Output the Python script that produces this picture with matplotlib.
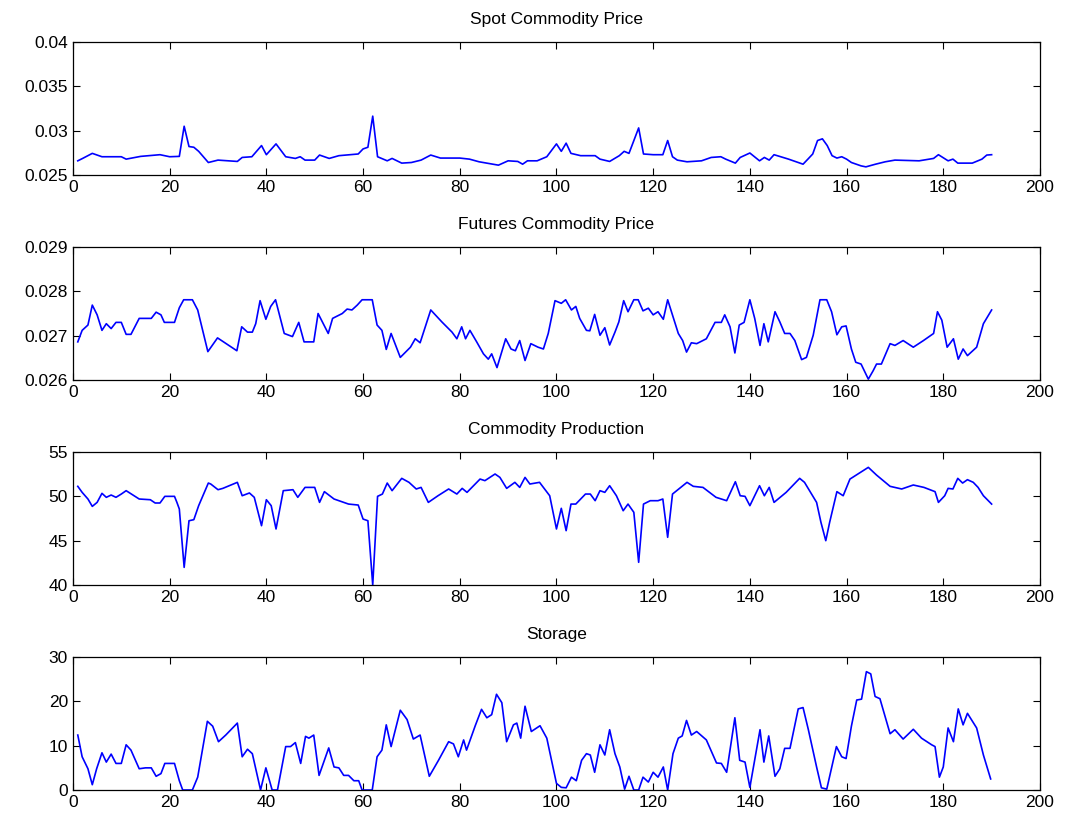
import matplotlib
matplotlib.use('Agg')
import matplotlib.pyplot as plt
from matplotlib.ticker import FormatStrFormatter

plt.rcParams['font.family'] = ['Liberation Sans', 'DejaVu Sans']

# Spot commodity price
spot_x = [1, 2, 4, 6, 8, 10, 11, 14, 18, 20, 22, 23, 24, 25, 26, 28, 30, 34, 35, 37,
          39, 40, 42, 44, 46, 47, 48, 50, 51, 53, 55, 59, 60, 61, 62, 63, 65, 66, 68, 70,
          72, 74, 76, 80, 82, 84, 88, 90, 92, 93, 94, 96, 98, 100, 101, 102, 103, 105, 108, 109,
          111, 113, 114, 115, 117, 118, 120, 122, 123, 124, 125, 127, 130, 132, 134, 135, 137, 138, 140, 142,
          143, 144, 145, 148, 151, 152, 153, 154, 155, 156, 157, 158, 159, 160, 161, 163, 164, 166, 168, 170,
          175, 178, 179, 181, 182, 183, 186, 188, 189, 190]
spot_y = [0.02660, 0.02687, 0.02744, 0.02706, 0.02706, 0.02706, 0.02679, 0.02710, 0.02729, 0.02706,
          0.02710, 0.03050, 0.02821, 0.02813, 0.02767, 0.02641, 0.02668, 0.02653, 0.02698, 0.02706,
          0.02832, 0.02729, 0.02851, 0.02706, 0.02687, 0.02706, 0.02668, 0.02668, 0.02725, 0.02687,
          0.02718, 0.02737, 0.02794, 0.02813, 0.03164, 0.02706, 0.02660, 0.02687, 0.02634, 0.02641,
          0.02668, 0.02725, 0.02691, 0.02691, 0.02679, 0.02649, 0.02611, 0.02660, 0.02653, 0.02622,
          0.02660, 0.02660, 0.02706, 0.02851, 0.02767, 0.02859, 0.02744, 0.02718, 0.02718, 0.02679,
          0.02653, 0.02718, 0.02767, 0.02744, 0.03031, 0.02737, 0.02729, 0.02729, 0.02889, 0.02706,
          0.02668, 0.02649, 0.02660, 0.02698, 0.02706, 0.02679, 0.02634, 0.02698, 0.02748, 0.02660,
          0.02698, 0.02668, 0.02729, 0.02679, 0.02622, 0.02679, 0.02737, 0.02889, 0.02908, 0.02832,
          0.02718, 0.02691, 0.02706, 0.02679, 0.02641, 0.02603, 0.02592, 0.02622, 0.02649, 0.02668,
          0.02660, 0.02687, 0.02729, 0.02660, 0.02679, 0.02634, 0.02634, 0.02679, 0.02725, 0.02729]

# Futures commodity price
fut_x = [1, 1.9, 3.1, 4, 5, 6, 6.9, 7.9, 8.9, 10, 11, 12, 13.7, 16.2, 17.2, 18.2, 18.9, 21, 22, 22.9,
         24.7, 25.8, 27.9, 29.9, 33.9, 34.9, 36.1, 37.1, 37.8, 38.7, 39.9, 40.9, 41.9, 43.7, 45.4, 46.7, 47.8, 49.8, 50.7, 51.9,
         52.8, 53.7, 55.7, 56.7, 57.7, 58.8, 59.8, 61.9, 62.9, 63.9, 64.8, 65.8, 67.7, 69.8, 70.8, 71.8, 74, 76.3, 78.4, 79.4,
         80.4, 81.2, 82.1, 83.5, 84.9, 85.9, 86.6, 87.7, 89.5, 90.6, 91.5, 92.4, 93.5, 94.7, 96.2, 97.3, 98.3, 99.7, 101, 101.9,
         103.1, 104, 104.8, 106.2, 106.9, 107.9, 109, 110, 111, 112.1, 112.9, 113.9, 114.8, 116, 116.9, 117.9, 119, 120, 121, 122.1,
         123, 124.1, 125.2, 126.1, 126.9, 127.9, 129, 131, 132.8, 134.1, 134.8, 135.9, 136.9, 137.8, 138.8, 140, 141, 142.1, 142.9, 143.8,
         145.2, 146.2, 147.2, 148.3, 149.3, 150.7, 151.7, 153.1, 154.5, 155.9, 156.9, 158, 159, 159.9, 161, 161.9, 163, 164.5, 165.5, 166.2,
         167.2, 169, 170, 171.7, 173.8, 175.9, 178, 178.8, 179.7, 180.8, 182.1, 183.1, 184.1, 185, 186.9, 188.3, 190]
fut_y = [0.02686, 0.02712, 0.02724, 0.02769, 0.02747, 0.02712, 0.02727, 0.02716, 0.02730, 0.02730,
         0.02703, 0.02703, 0.02739, 0.02739, 0.02753, 0.02747, 0.02730, 0.02730, 0.02763, 0.02781,
         0.02781, 0.02758, 0.02664, 0.02695, 0.02666, 0.02720, 0.02708, 0.02708, 0.02727, 0.02779,
         0.02737, 0.02766, 0.02781, 0.02705, 0.02698, 0.02730, 0.02686, 0.02686, 0.02750, 0.02724,
         0.02705, 0.02739, 0.02750, 0.02760, 0.02758, 0.02769, 0.02781, 0.02781, 0.02724, 0.02712,
         0.02669, 0.02705, 0.02651, 0.02674, 0.02693, 0.02684, 0.02758, 0.02731, 0.02708, 0.02693,
         0.02720, 0.02693, 0.02712, 0.02686, 0.02659, 0.02647, 0.02659, 0.02628, 0.02693, 0.02670,
         0.02666, 0.02689, 0.02644, 0.02682, 0.02674, 0.02670, 0.02705, 0.02779, 0.02773, 0.02781,
         0.02758, 0.02766, 0.02739, 0.02712, 0.02711, 0.02748, 0.02701, 0.02718, 0.02679, 0.02708,
         0.02731, 0.02779, 0.02754, 0.02781, 0.02781, 0.02756, 0.02762, 0.02747, 0.02754, 0.02737,
         0.02781, 0.02743, 0.02705, 0.02689, 0.02663, 0.02684, 0.02682, 0.02693, 0.02730, 0.02730,
         0.02747, 0.02720, 0.02661, 0.02724, 0.02730, 0.02781, 0.02739, 0.02678, 0.02727, 0.02686,
         0.02754, 0.02731, 0.02705, 0.02705, 0.02689, 0.02646, 0.02651, 0.02701, 0.02781, 0.02781,
         0.02754, 0.02702, 0.02720, 0.02722, 0.02670, 0.02640, 0.02636, 0.02602, 0.02621, 0.02636,
         0.02636, 0.02682, 0.02678, 0.02689, 0.02674, 0.02689, 0.02705, 0.02754, 0.02735, 0.02674,
         0.02693, 0.02647, 0.02670, 0.02655, 0.02674, 0.02727, 0.02758]

# Commodity production
prod_x = [1, 1.9, 3.1, 4, 5, 6, 6.9, 7.9, 8.9, 10, 11, 13.7, 16, 17, 18, 19, 21, 21.5, 22, 23,
          24, 25, 26, 28, 28.5, 30, 31, 34, 35, 36.5, 37.5, 39, 40, 41, 42, 43.5, 45.5, 46.5, 48, 50,
          51, 52, 54, 57, 59, 60, 61, 62, 63, 64, 65, 66, 68, 69.5, 71, 72, 73.5, 75.5, 77.7, 79.4,
          80.5, 81.5, 84.2, 85.2, 87.3, 88.3, 89.7, 91.4, 92.4, 93.5, 94.5, 96.5, 98.6, 100, 101, 102, 103, 104, 106, 107,
          108, 109, 110, 111, 112.4, 113.8, 114.8, 116, 117, 118, 119.4, 121, 122, 123, 124, 127, 128.3, 130.3, 133, 135.2,
          137, 138, 139, 140, 142, 143, 144, 145, 147.5, 150.3, 151.3, 153.8, 154.7, 155.7, 156.5, 158, 159.3, 160.7, 162, 164.5,
          166.2, 169, 171.4, 173.8, 176, 178.3, 179, 180.3, 181, 182, 183, 184, 185, 186.2, 187.2, 188.3, 190]
prod_y = [51.13, 50.45, 49.70, 48.87, 49.32, 50.34, 49.89, 50.15, 49.89, 50.26, 50.64, 49.70, 49.62, 49.25, 49.25,
          50.00, 50.00, 49.32, 48.57, 41.99, 47.25, 47.37, 48.95, 51.50, 51.39, 50.75, 50.90, 51.58, 50.07, 50.38,
          49.89, 46.69, 49.62, 48.95, 46.32, 50.64, 50.75, 49.89, 51.01, 51.01, 49.32, 50.53, 49.70, 49.13, 49.02,
          47.44, 47.25, 40.00, 50.00, 50.26, 51.50, 50.64, 52.03, 51.58, 50.83, 51.01, 49.32, 50.07, 50.83, 50.26,
          50.90, 50.45, 51.95, 51.77, 52.52, 52.14, 50.90, 51.58, 51.01, 52.14, 51.39, 51.58, 50.07, 46.32, 48.65,
          46.13, 49.13, 49.13, 50.26, 50.26, 49.51, 50.64, 50.45, 51.20, 50.07, 48.38, 49.13, 48.20, 42.56, 49.13,
          49.51, 49.51, 49.70, 45.38, 50.26, 51.58, 51.13, 51.01, 49.89, 49.51, 51.65, 50.07, 50.00, 48.95, 51.20,
          50.07, 51.01, 49.32, 50.45, 52.03, 51.58, 49.32, 47.07, 45.00, 47.07, 50.53, 50.07, 51.95, 52.40, 53.27,
          52.40, 51.13, 50.83, 51.28, 51.01, 50.53, 49.32, 50.07, 50.90, 50.83, 52.03, 51.50, 51.88, 51.58, 51.01,
          50.07, 49.13]

# Storage
stor_x = [1, 1.9, 3.1, 4, 4.9, 6, 6.9, 7.9, 8.9, 10, 11, 12, 13.7, 15, 16.2, 17.2, 18.2, 19, 21, 22,
          22.7, 24.7, 25.8, 27.8, 28.9, 30.1, 31.6, 34, 35, 36.1, 37.1, 38.8, 39.9, 41.2, 42.3, 44, 45, 46, 47.1, 48.1,
          48.8, 49.8, 50.9, 52.9, 54, 55, 56, 57, 58.1, 59.1, 59.8, 61.9, 62.9, 63.9, 64.8, 65.8, 67.7, 69.1, 70.4, 71.8,
          73.7, 75.6, 77.7, 78.7, 79.7, 80.8, 81.4, 83.2, 84.5, 85.6, 86.6, 87.6, 88.7, 89.7, 91.1, 91.8, 92.6, 93.5, 94.8, 96.6,
          98, 100, 101, 102, 103.1, 104.1, 105.2, 106.2, 107, 107.9, 109, 110, 111, 112.1, 113.1, 114.1, 115, 116, 117, 117.9,
          119, 120, 121, 122.1, 123, 124.1, 125.2, 126, 126.9, 127.9, 129, 131, 133.1, 134.1, 135.2, 136.9, 137.9, 139, 140, 142.1,
          142.9, 143.9, 145.2, 146.2, 147.2, 148.3, 150, 151, 152.1, 153.8, 154.8, 155.9, 157.9, 159, 159.9, 161, 162.1, 163.1, 164.1, 165,
          165.9, 166.9, 169, 170, 171.7, 173.8, 175.5, 177.6, 178.3, 179.2, 180, 181, 182.1, 183.1, 184.1, 185, 186.9, 188.3, 189.8]
stor_y = [12.4, 7.5, 4.8, 1.2, 4.8, 8.4, 6.3, 8.1, 6.0, 6.0, 10.2, 9.0, 4.8, 5.0, 5.0, 3.1, 3.7, 6.0, 6.0, 2.1,
          0.0, 0.0, 2.9, 15.5, 14.4, 10.9, 12.4, 15.1, 7.5, 9.2, 8.2, 0.0, 5.0, 0.0, 0.0, 9.8, 9.8, 10.7, 6.0, 12.1,
          11.7, 12.4, 3.3, 9.5, 5.2, 5.0, 3.3, 3.3, 2.1, 2.1, 0.0, 0.0, 7.5, 9.0, 14.7, 9.8, 18.0, 15.9, 11.5, 12.4,
          3.1, 6.7, 10.9, 10.4, 7.5, 11.3, 9.0, 14.5, 18.2, 16.3, 17.0, 21.6, 19.7, 10.9, 14.7, 15.1, 11.7, 18.9, 13.2, 14.5,
          11.7, 1.5, 0.6, 0.5, 2.9, 2.1, 6.7, 8.2, 7.9, 4.0, 10.2, 7.9, 13.6, 8.2, 5.2, 0.2, 3.1, 0.0, 0.0, 2.9,
          1.8, 4.0, 2.9, 5.2, 0.0, 8.2, 11.7, 12.2, 15.7, 12.4, 13.2, 11.3, 6.1, 6.0, 4.0, 16.3, 6.7, 6.3, 0.6, 13.6,
          6.3, 12.2, 3.1, 4.8, 9.4, 9.4, 18.3, 18.6, 13.6, 5.2, 0.5, 0.2, 9.8, 7.5, 7.1, 14.4, 20.3, 20.5, 26.7, 26.2,
          21.1, 20.6, 12.7, 13.6, 11.5, 13.7, 11.7, 10.2, 9.8, 2.9, 5.2, 14.0, 10.9, 18.3, 14.7, 17.3, 14.0, 7.9, 2.5]

titles = ['Spot Commodity Price', 'Futures Commodity Price', 'Commodity Production', 'Storage']
xs = [spot_x, fut_x, prod_x, stor_x]
ys = [spot_y, fut_y, prod_y, stor_y]
ylims = [(0.025, 0.04), (0.026, 0.029), (40, 55), (0, 30)]
yticks = [[0.025, 0.03, 0.035, 0.04], [0.026, 0.027, 0.028, 0.029], [40, 45, 50, 55], [0, 10, 20, 30]]
xticks = [0, 20, 40, 60, 80, 100, 120, 140, 160, 180, 200]

fig = plt.figure(figsize=(10.65, 8.22), dpi=100)
bottoms = [0.7871, 0.5377, 0.2883, 0.0389]
for i in range(4):
    ax = fig.add_axes([0.0685, bottoms[i], 0.908, 0.1618])
    ax.plot(xs[i], ys[i], color='#0000ff', linewidth=1.2)
    ax.set_xlim(0, 200)
    ax.set_ylim(*ylims[i])
    ax.set_xticks(xticks)
    ax.set_yticks(yticks[i])
    ax.yaxis.set_major_formatter(FormatStrFormatter('%g'))
    ax.tick_params(direction='in', top=True, right=True, length=5, labelsize=12.5)
    ax.set_title(titles[i], fontsize=12.5, pad=13)
    for s in ax.spines.values():
        s.set_linewidth(0.9)

plt.savefig('out.png', dpi=100)
